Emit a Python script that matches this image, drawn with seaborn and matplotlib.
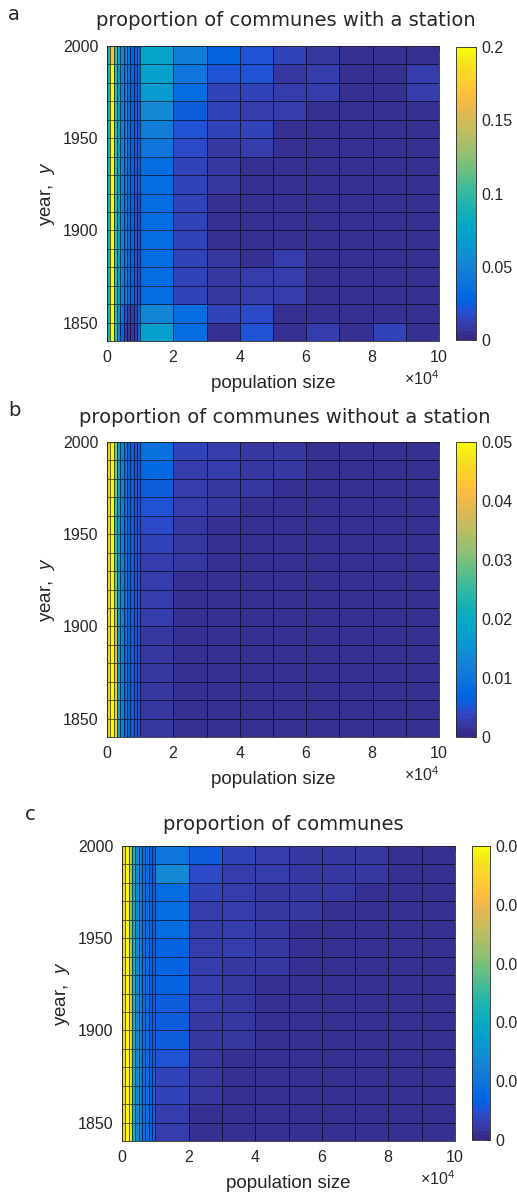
import numpy as np
import matplotlib
matplotlib.use("Agg")
import matplotlib.pyplot as plt
import matplotlib.ticker as mticker
from matplotlib.colors import ListedColormap
import seaborn as sns

# ---------------- data ----------------
POP_EDGES = [0, 1000, 2000, 3000, 4000, 5000, 6000, 7000, 8000, 9000, 10000,
             20000, 30000, 40000, 50000, 60000, 70000, 80000, 90000, 100000]
YEAR_EDGES = [1840, 1850, 1860, 1870, 1880, 1890, 1900, 1910, 1920, 1930,
              1940, 1950, 1960, 1970, 1980, 1990, 2000]

# rows: decades 1840s ... 1990s ; columns: population bins
WITH_STATION = [
    [0.09, 0.20, 0.10, 0.05, 0.03, 0.012, 0.008, 0.008, 0.010, 0.030, 0.070, 0.034, 0.004, 0.020, 0.004, 0.012, 0.004, 0.013, 0.004],
    [0.09, 0.20, 0.10, 0.06, 0.04, 0.020, 0.012, 0.012, 0.015, 0.030, 0.052, 0.032, 0.014, 0.018, 0.004, 0.005, 0.004, 0.005, 0.004],
    [0.09, 0.20, 0.10, 0.07, 0.05, 0.040, 0.033, 0.026, 0.020, 0.018, 0.034, 0.014, 0.007, 0.010, 0.010, 0.004, 0.005, 0.005, 0.005],
    [0.09, 0.20, 0.10, 0.07, 0.05, 0.040, 0.033, 0.026, 0.020, 0.018, 0.033, 0.014, 0.007, 0.012, 0.010, 0.005, 0.005, 0.005, 0.005],
    [0.09, 0.20, 0.10, 0.07, 0.05, 0.040, 0.033, 0.026, 0.020, 0.018, 0.032, 0.013, 0.007, 0.005, 0.010, 0.005, 0.005, 0.005, 0.005],
    [0.09, 0.20, 0.10, 0.07, 0.05, 0.040, 0.033, 0.026, 0.020, 0.018, 0.032, 0.013, 0.006, 0.005, 0.005, 0.005, 0.005, 0.005, 0.005],
    [0.09, 0.20, 0.10, 0.07, 0.05, 0.040, 0.033, 0.026, 0.020, 0.018, 0.032, 0.013, 0.006, 0.005, 0.004, 0.005, 0.005, 0.005, 0.005],
    [0.09, 0.20, 0.10, 0.07, 0.05, 0.040, 0.033, 0.026, 0.020, 0.018, 0.032, 0.013, 0.006, 0.005, 0.004, 0.005, 0.005, 0.005, 0.005],
    [0.09, 0.20, 0.10, 0.07, 0.05, 0.040, 0.034, 0.027, 0.021, 0.019, 0.032, 0.014, 0.007, 0.006, 0.005, 0.005, 0.005, 0.005, 0.005],
    [0.09, 0.20, 0.10, 0.07, 0.05, 0.040, 0.034, 0.027, 0.021, 0.019, 0.033, 0.014, 0.007, 0.006, 0.005, 0.005, 0.005, 0.005, 0.005],
    [0.09, 0.20, 0.10, 0.07, 0.05, 0.042, 0.035, 0.028, 0.022, 0.020, 0.040, 0.016, 0.009, 0.012, 0.005, 0.005, 0.005, 0.005, 0.005],
    [0.09, 0.20, 0.10, 0.07, 0.05, 0.042, 0.035, 0.028, 0.022, 0.020, 0.046, 0.020, 0.013, 0.015, 0.005, 0.006, 0.006, 0.005, 0.005],
    [0.09, 0.20, 0.10, 0.07, 0.05, 0.044, 0.036, 0.029, 0.023, 0.021, 0.056, 0.024, 0.013, 0.011, 0.012, 0.006, 0.005, 0.005, 0.005],
    [0.09, 0.20, 0.10, 0.07, 0.05, 0.045, 0.037, 0.030, 0.024, 0.022, 0.068, 0.032, 0.014, 0.013, 0.010, 0.012, 0.005, 0.005, 0.010],
    [0.09, 0.20, 0.10, 0.07, 0.05, 0.045, 0.038, 0.030, 0.024, 0.022, 0.070, 0.040, 0.020, 0.020, 0.008, 0.010, 0.005, 0.005, 0.010],
    [0.09, 0.17, 0.10, 0.075, 0.055, 0.045, 0.040, 0.030, 0.025, 0.022, 0.072, 0.046, 0.028, 0.020, 0.015, 0.008, 0.005, 0.005, 0.005],
]

WITHOUT_STATION = [
    [0.045, 0.05, 0.044, 0.020, 0.012, 0.009, 0.007, 0.006, 0.005, 0.005, 0.0020, 0.0015, 0.0010, 0.0010, 0.0010, 0.0010, 0.0010, 0.0010, 0.0010],
    [0.045, 0.05, 0.044, 0.020, 0.012, 0.009, 0.007, 0.006, 0.005, 0.005, 0.0020, 0.0015, 0.0010, 0.0010, 0.0010, 0.0010, 0.0010, 0.0010, 0.0010],
    [0.045, 0.05, 0.043, 0.020, 0.012, 0.009, 0.007, 0.006, 0.005, 0.005, 0.0020, 0.0015, 0.0012, 0.0010, 0.0010, 0.0010, 0.0010, 0.0010, 0.0010],
    [0.045, 0.05, 0.042, 0.020, 0.012, 0.009, 0.007, 0.006, 0.005, 0.005, 0.0020, 0.0015, 0.0012, 0.0010, 0.0010, 0.0010, 0.0010, 0.0010, 0.0010],
    [0.045, 0.05, 0.040, 0.019, 0.012, 0.009, 0.007, 0.006, 0.005, 0.005, 0.0020, 0.0015, 0.0012, 0.0012, 0.0010, 0.0010, 0.0010, 0.0010, 0.0010],
    [0.045, 0.05, 0.038, 0.019, 0.012, 0.009, 0.007, 0.006, 0.005, 0.005, 0.0022, 0.0015, 0.0012, 0.0012, 0.0012, 0.0010, 0.0010, 0.0010, 0.0010],
    [0.045, 0.05, 0.035, 0.018, 0.012, 0.009, 0.007, 0.006, 0.005, 0.005, 0.0025, 0.0015, 0.0012, 0.0012, 0.0012, 0.0012, 0.0012, 0.0012, 0.0012],
    [0.045, 0.05, 0.032, 0.018, 0.012, 0.009, 0.007, 0.006, 0.005, 0.005, 0.0030, 0.0015, 0.0015, 0.0012, 0.0012, 0.0012, 0.0012, 0.0012, 0.0012],
    [0.045, 0.05, 0.030, 0.018, 0.012, 0.009, 0.007, 0.006, 0.005, 0.005, 0.0030, 0.0015, 0.0015, 0.0012, 0.0012, 0.0012, 0.0012, 0.0012, 0.0012],
    [0.045, 0.05, 0.028, 0.017, 0.012, 0.009, 0.007, 0.006, 0.005, 0.005, 0.0030, 0.0020, 0.0015, 0.0015, 0.0012, 0.0012, 0.0012, 0.0012, 0.0012],
    [0.045, 0.05, 0.025, 0.017, 0.012, 0.009, 0.007, 0.006, 0.005, 0.005, 0.0035, 0.0020, 0.0015, 0.0015, 0.0015, 0.0015, 0.0015, 0.0015, 0.0015],
    [0.045, 0.05, 0.024, 0.017, 0.012, 0.009, 0.007, 0.006, 0.005, 0.005, 0.0045, 0.0020, 0.0015, 0.0015, 0.0015, 0.0015, 0.0015, 0.0015, 0.0015],
    [0.045, 0.05, 0.026, 0.017, 0.012, 0.009, 0.007, 0.006, 0.005, 0.005, 0.0050, 0.0025, 0.0020, 0.0015, 0.0015, 0.0015, 0.0015, 0.0015, 0.0015],
    [0.045, 0.05, 0.030, 0.018, 0.012, 0.009, 0.007, 0.006, 0.005, 0.005, 0.0060, 0.0030, 0.0020, 0.0020, 0.0015, 0.0015, 0.0015, 0.0015, 0.0015],
    [0.045, 0.05, 0.032, 0.018, 0.012, 0.009, 0.007, 0.006, 0.005, 0.005, 0.0075, 0.0030, 0.0025, 0.0020, 0.0020, 0.0015, 0.0015, 0.0015, 0.0015],
    [0.045, 0.05, 0.032, 0.018, 0.012, 0.009, 0.007, 0.006, 0.005, 0.005, 0.0090, 0.0035, 0.0025, 0.0020, 0.0020, 0.0015, 0.0015, 0.0015, 0.0015],
]

ALL_COMMUNES = [
    [0.045, 0.05, 0.046, 0.022, 0.014, 0.011, 0.009, 0.008, 0.007, 0.006, 0.0030, 0.0015, 0.0015, 0.0012, 0.0012, 0.0012, 0.0012, 0.0012, 0.0012],
    [0.045, 0.05, 0.046, 0.022, 0.014, 0.011, 0.009, 0.008, 0.007, 0.006, 0.0030, 0.0015, 0.0015, 0.0012, 0.0012, 0.0012, 0.0012, 0.0012, 0.0012],
    [0.045, 0.05, 0.045, 0.022, 0.014, 0.011, 0.009, 0.008, 0.007, 0.006, 0.0035, 0.0020, 0.0015, 0.0015, 0.0012, 0.0012, 0.0012, 0.0012, 0.0012],
    [0.045, 0.05, 0.045, 0.022, 0.014, 0.011, 0.009, 0.008, 0.007, 0.006, 0.0035, 0.0020, 0.0015, 0.0015, 0.0015, 0.0012, 0.0012, 0.0012, 0.0012],
    [0.045, 0.05, 0.044, 0.022, 0.014, 0.011, 0.009, 0.008, 0.007, 0.006, 0.0050, 0.0020, 0.0015, 0.0015, 0.0015, 0.0015, 0.0015, 0.0015, 0.0015],
    [0.045, 0.05, 0.043, 0.022, 0.014, 0.011, 0.009, 0.008, 0.007, 0.006, 0.0060, 0.0020, 0.0020, 0.0015, 0.0015, 0.0015, 0.0015, 0.0015, 0.0015],
    [0.045, 0.05, 0.042, 0.022, 0.014, 0.011, 0.009, 0.008, 0.007, 0.006, 0.0055, 0.0020, 0.0020, 0.0015, 0.0015, 0.0015, 0.0015, 0.0015, 0.0015],
    [0.045, 0.05, 0.040, 0.022, 0.014, 0.011, 0.009, 0.008, 0.007, 0.006, 0.0055, 0.0025, 0.0020, 0.0015, 0.0015, 0.0015, 0.0015, 0.0015, 0.0015],
    [0.045, 0.05, 0.038, 0.022, 0.014, 0.011, 0.009, 0.008, 0.007, 0.006, 0.0065, 0.0025, 0.0020, 0.0015, 0.0015, 0.0015, 0.0015, 0.0015, 0.0015],
    [0.045, 0.05, 0.036, 0.022, 0.014, 0.011, 0.009, 0.008, 0.007, 0.006, 0.0068, 0.0025, 0.0020, 0.0020, 0.0015, 0.0015, 0.0015, 0.0015, 0.0015],
    [0.045, 0.05, 0.034, 0.022, 0.014, 0.011, 0.009, 0.008, 0.007, 0.006, 0.0070, 0.0030, 0.0025, 0.0020, 0.0015, 0.0015, 0.0015, 0.0015, 0.0015],
    [0.045, 0.05, 0.032, 0.022, 0.014, 0.011, 0.009, 0.008, 0.007, 0.006, 0.0080, 0.0030, 0.0025, 0.0020, 0.0015, 0.0015, 0.0015, 0.0015, 0.0015],
    [0.045, 0.05, 0.032, 0.022, 0.014, 0.011, 0.009, 0.008, 0.007, 0.006, 0.0085, 0.0030, 0.0025, 0.0020, 0.0020, 0.0015, 0.0015, 0.0015, 0.0015],
    [0.045, 0.05, 0.033, 0.022, 0.014, 0.011, 0.009, 0.008, 0.007, 0.006, 0.0085, 0.0035, 0.0025, 0.0020, 0.0020, 0.0020, 0.0015, 0.0015, 0.0015],
    [0.045, 0.05, 0.034, 0.022, 0.014, 0.011, 0.009, 0.008, 0.007, 0.006, 0.0135, 0.0040, 0.0030, 0.0025, 0.0020, 0.0020, 0.0020, 0.0015, 0.0015],
    [0.045, 0.05, 0.035, 0.022, 0.014, 0.011, 0.009, 0.008, 0.007, 0.006, 0.0100, 0.0055, 0.0035, 0.0025, 0.0020, 0.0020, 0.0020, 0.0015, 0.0015],
]

TITLES = ["proportion of communes with a station",
          "proportion of communes without a station",
          "proportion of communes"]
PANEL_LETTERS = ["a", "b", "c"]
COLOR_LIMITS = [(0.0, 0.2), (0.0, 0.05), (0.0, 0.05)]
CBAR_TICKS = [[0, 0.05, 0.1, 0.15, 0.2],
              [0, 0.01, 0.02, 0.03, 0.04, 0.05],
              [0, 0.01, 0.02, 0.03, 0.04, 0.05]]
X_TICKS = [0, 20000, 40000, 60000, 80000, 100000]
Y_TICKS = [1850, 1900, 1950, 2000]

# parula colormap
PARULA = [[0.2081, 0.1663, 0.5292], [0.2116, 0.1898, 0.5777], [0.2123, 0.2138, 0.6270], [0.2081, 0.2386, 0.6771],
          [0.1959, 0.2645, 0.7279], [0.1707, 0.2919, 0.7792], [0.1253, 0.3242, 0.8303], [0.0591, 0.3598, 0.8683],
          [0.0117, 0.3875, 0.8820], [0.0060, 0.4086, 0.8828], [0.0165, 0.4266, 0.8786], [0.0329, 0.4430, 0.8720],
          [0.0498, 0.4586, 0.8641], [0.0629, 0.4737, 0.8554], [0.0723, 0.4887, 0.8467], [0.0779, 0.5040, 0.8384],
          [0.0793, 0.5200, 0.8312], [0.0749, 0.5375, 0.8263], [0.0641, 0.5570, 0.8240], [0.0488, 0.5772, 0.8228],
          [0.0343, 0.5966, 0.8199], [0.0265, 0.6137, 0.8135], [0.0239, 0.6287, 0.8038], [0.0231, 0.6418, 0.7913],
          [0.0228, 0.6535, 0.7768], [0.0267, 0.6642, 0.7607], [0.0384, 0.6743, 0.7436], [0.0590, 0.6838, 0.7254],
          [0.0843, 0.6928, 0.7062], [0.1133, 0.7015, 0.6859], [0.1453, 0.7098, 0.6646], [0.1801, 0.7177, 0.6424],
          [0.2178, 0.7250, 0.6193], [0.2586, 0.7317, 0.5954], [0.3022, 0.7376, 0.5712], [0.3482, 0.7424, 0.5473],
          [0.3953, 0.7459, 0.5244], [0.4420, 0.7481, 0.5033], [0.4871, 0.7491, 0.4840], [0.5300, 0.7491, 0.4661],
          [0.5709, 0.7485, 0.4494], [0.6099, 0.7473, 0.4337], [0.6473, 0.7456, 0.4188], [0.6834, 0.7435, 0.4044],
          [0.7184, 0.7411, 0.3905], [0.7525, 0.7384, 0.3768], [0.7858, 0.7356, 0.3633], [0.8185, 0.7327, 0.3498],
          [0.8507, 0.7299, 0.3360], [0.8824, 0.7274, 0.3217], [0.9139, 0.7258, 0.3063], [0.9450, 0.7261, 0.2886],
          [0.9739, 0.7314, 0.2666], [0.9938, 0.7455, 0.2403], [0.9990, 0.7653, 0.2164], [0.9955, 0.7861, 0.1967],
          [0.9880, 0.8066, 0.1794], [0.9789, 0.8271, 0.1633], [0.9697, 0.8481, 0.1475], [0.9626, 0.8705, 0.1309],
          [0.9589, 0.8949, 0.1132], [0.9598, 0.9218, 0.0948], [0.9661, 0.9514, 0.0755], [0.9763, 0.9831, 0.0538]]
cmap = ListedColormap(PARULA, name="parula")

# ---------------- style ----------------
sns.set_theme(style="white")
plt.rcParams.update({
    "font.family": ["Liberation Sans", "DejaVu Sans"],
    "mathtext.fontset": "custom",
    "mathtext.rm": "Liberation Sans",
    "mathtext.it": "Liberation Sans:italic",
    "axes.edgecolor": "#262626",
    "axes.linewidth": 0.6,
    "xtick.color": "#262626",
    "ytick.color": "#262626",
    "text.color": "#262626",
    "axes.labelcolor": "#262626",
})

W, H = 517, 1194
fig = plt.figure(figsize=(W / 100, H / 100), dpi=100)


def fx(px):
    return px / W


def fy(py):
    return 1 - py / H


# pixel layout: (left, right, top, bottom) for axes and colorbars
AX_BOX = [(107, 439, 46, 341), (107, 439, 442, 737), (122, 455, 846, 1141)]
CB_BOX = [(456, 476, 47, 340), (456, 476, 442, 737), (472, 490, 846, 1140)]
TITLE_POS = [(286, 20), (285, 418), (283, 824)]
LETTER_POS = [(14, 14), (14, 410), (30, 814)]

X = np.array(POP_EDGES, dtype=float)
Y = np.array(YEAR_EDGES, dtype=float)

for i, data in enumerate([WITH_STATION, WITHOUT_STATION, ALL_COMMUNES]):
    l, r, t, b = AX_BOX[i]
    ax = fig.add_axes([fx(l), fy(b), fx(r) - fx(l), fy(t) - fy(b)])
    vmin, vmax = COLOR_LIMITS[i]
    mesh = ax.pcolormesh(X, Y, np.array(data), cmap=cmap, vmin=vmin, vmax=vmax,
                         edgecolors=(0, 0, 0, 0.6), linewidth=0.5)
    ax.set_xlim(0, 100000)
    ax.set_ylim(1840, 2000)
    ax.set_xticks(X_TICKS)
    ax.set_yticks(Y_TICKS)
    fmt = mticker.ScalarFormatter(useMathText=True)
    fmt.set_powerlimits((4, 4))
    ax.xaxis.set_major_formatter(fmt)
    ax.tick_params(direction="in", length=3, width=0.5, labelsize=11.5, pad=6,
                   top=True, right=True)
    ax.xaxis.get_offset_text().set_fontsize(11.5)
    ax.set_xlabel("population size", fontsize=13.5, labelpad=7)
    ax.set_ylabel("year,  $y$", fontsize=13.5, labelpad=4)
    for sp in ax.spines.values():
        sp.set_visible(True)

    cl, cr, ct, cb_ = CB_BOX[i]
    cax = fig.add_axes([fx(cl), fy(cb_), fx(cr) - fx(cl), fy(ct) - fy(cb_)])
    cbar = fig.colorbar(mesh, cax=cax)
    cbar.set_ticks(CBAR_TICKS[i])
    cbar.ax.yaxis.set_major_formatter(mticker.FuncFormatter(lambda v, p: f"{v:g}"))
    cbar.ax.tick_params(direction="in", length=3, width=0.5, labelsize=11.5, pad=4)
    cbar.outline.set_linewidth(0.6)
    cbar.outline.set_edgecolor("#262626")

    tx, ty = TITLE_POS[i]
    fig.text(fx(tx), fy(ty), TITLES[i], ha="center", va="center",
             fontsize=14, family="DejaVu Sans")
    lx, ly = LETTER_POS[i]
    fig.text(fx(lx), fy(ly), PANEL_LETTERS[i], ha="center", va="center",
             fontsize=14, family="DejaVu Sans")

fig.savefig("out.png", dpi=100)
